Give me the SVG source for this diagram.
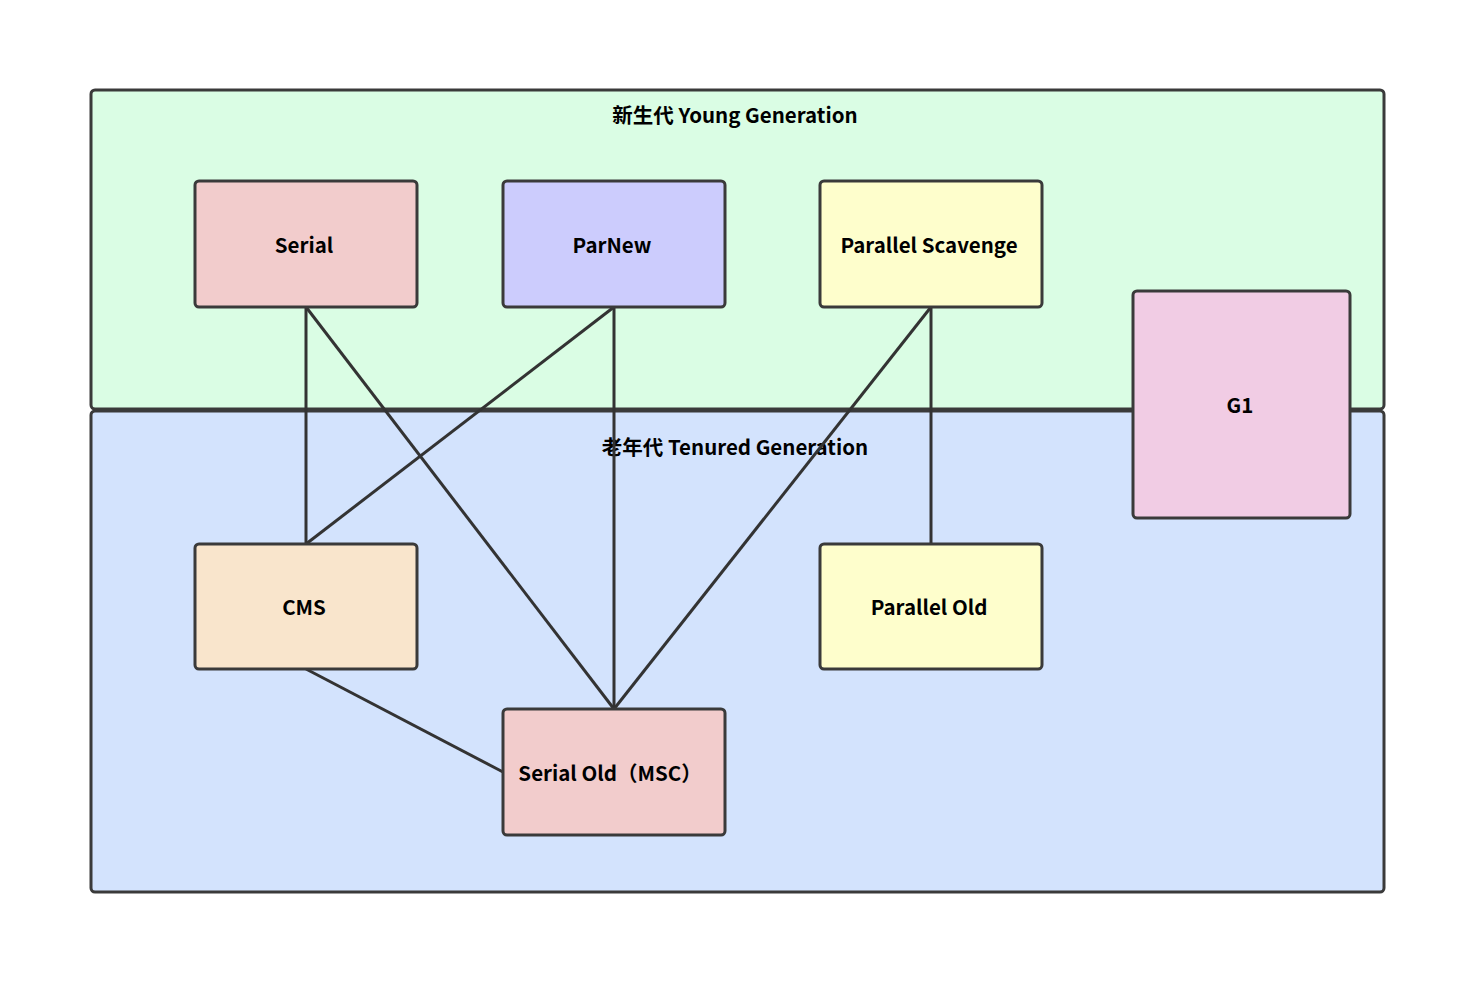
<svg xmlns="http://www.w3.org/2000/svg" width="1475" height="987" viewBox="0 0 1475 987">
<style>
.box{stroke:#3a3a3a;stroke-width:3}
.lbl{font-family:"Noto Sans CJK SC","Liberation Sans",sans-serif;font-weight:bold;font-size:20.5px;fill:#000;text-anchor:middle;dominant-baseline:central}
.edge{stroke:#333;stroke-width:3;fill:none}
</style>
<rect width="1475" height="987" fill="#fff"/>
<g id="young">
<rect class="box" x="91" y="90" width="1293" height="319" rx="4" fill="#dafde4"/>
<text class="lbl" x="735" y="114">新生代 Young Generation</text>
</g>
<g id="tenured">
<rect class="box" x="91" y="411" width="1293" height="481" rx="4" fill="#d3e3fd"/>
<text class="lbl" x="735" y="446">老年代 Tenured Generation</text>
</g>
<g id="connectors">
<line class="edge" x1="306" y1="307" x2="306" y2="544"/>
<line class="edge" x1="306" y1="307" x2="614" y2="709"/>
<line class="edge" x1="614" y1="307" x2="306" y2="544"/>
<line class="edge" x1="614" y1="307" x2="614" y2="709"/>
<line class="edge" x1="931" y1="307" x2="614" y2="709"/>
<line class="edge" x1="931" y1="307" x2="931" y2="544"/>
<line class="edge" x1="306" y1="669" x2="503" y2="772"/>
</g>
<g id="serial">
<rect class="box" x="195" y="181" width="222" height="126" rx="4" fill="#f2cccc"/>
<text class="lbl" x="304" y="244">Serial</text>
</g>
<g id="parnew">
<rect class="box" x="503" y="181" width="222" height="126" rx="4" fill="#ccccfd"/>
<text class="lbl" x="612" y="244">ParNew</text>
</g>
<g id="parallel-scavenge">
<rect class="box" x="820" y="181" width="222" height="126" rx="4" fill="#fefecc"/>
<text class="lbl" x="929" y="244">Parallel Scavenge</text>
</g>
<g id="g1">
<rect class="box" x="1133" y="291" width="217" height="227" rx="4" fill="#f1cce4"/>
<text class="lbl" x="1240" y="404">G1</text>
</g>
<g id="cms">
<rect class="box" x="195" y="544" width="222" height="125" rx="4" fill="#f9e5cc"/>
<text class="lbl" x="304" y="606">CMS</text>
</g>
<g id="parallel-old">
<rect class="box" x="820" y="544" width="222" height="125" rx="4" fill="#fefecc"/>
<text class="lbl" x="929" y="606">Parallel Old</text>
</g>
<g id="serial-old">
<rect class="box" x="503" y="709" width="222" height="126" rx="4" fill="#f2cccc"/>
<text class="lbl" x="610" y="772">Serial Old（MSC）</text>
</g>
</svg>
